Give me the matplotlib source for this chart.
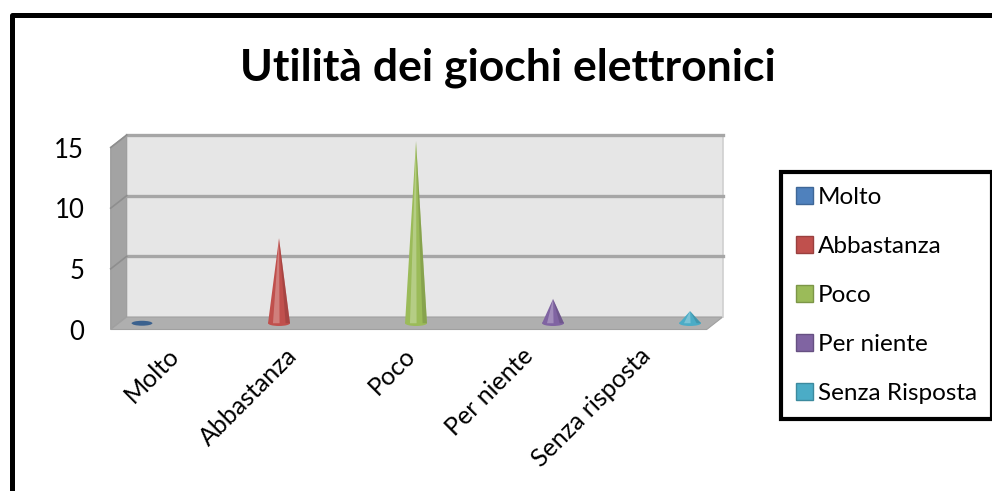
import numpy as np
import matplotlib
matplotlib.use("Agg")
import matplotlib.pyplot as plt
import matplotlib.transforms as mtransforms
from matplotlib.patches import Rectangle, Polygon, Ellipse, Patch

# data
categories = ["Molto", "Abbastanza", "Poco", "Per niente", "Senza risposta"]
legend_labels = ["Molto", "Abbastanza", "Poco", "Per niente", "Senza Risposta"]
values = [0, 7, 15, 2, 1]
colors = ["#4F81BD", "#C0504D", "#9BBB59", "#8064A2", "#4BACC6"]
yticks = [0, 5, 10, 15]

plt.rcParams['font.family'] = ['Lato', 'DejaVu Sans']

W, H = 992, 491
fig = plt.figure(figsize=(W / 100, H / 100), dpi=100)

# front plane of the fake 3D box (pixels)
x0, x1 = 110.7, 706.7
ybot, ytop = 329.5, 147.5
ax = fig.add_axes([x0 / W, 1 - ybot / H, (x1 - x0) / W, (ybot - ytop) / H])
ax.set_xlim(-0.17, 4.18)
ax.set_ylim(0, 15)
for s in ax.spines.values():
    s.set_visible(False)
ax.set_xticks([])
ax.set_yticks(yticks)
ax.tick_params(axis='y', length=0, pad=19, labelsize=18.5)
ax.patch.set_visible(False)


def shift(dx, dy):
    # offset in pixels (right / up)
    return mtransforms.ScaledTranslation(dx / 100, dy / 100, fig.dpi_scale_trans)


depth_x, depth_y = 16, 12.5
dxa = depth_x / (x1 - x0)
dya = depth_y / (ybot - ytop)

# back wall, side wall, floor
ax.add_patch(Rectangle((dxa, dya), 1, 1, transform=ax.transAxes, facecolor="#E6E6E6",
                       edgecolor="none", clip_on=False, zorder=0))
ax.add_patch(Polygon([(0, 0), (0, 1), (dxa, 1 + dya), (dxa, dya)], closed=True,
                     transform=ax.transAxes, facecolor="#A3A3A3", edgecolor="#9A9A9A",
                     lw=0.8, clip_on=False, zorder=1))
ax.add_patch(Polygon([(0, 0), (1, 0), (1 + dxa, dya), (dxa, dya)], closed=True,
                     transform=ax.transAxes, facecolor="#AFAFAF", edgecolor="#A0A0A0",
                     lw=0.8, clip_on=False, zorder=1))
ax.plot([1 + dxa, 1 + dxa], [dya, 1 + dya], transform=ax.transAxes, color="#D0D0D0",
        lw=1.2, clip_on=False, zorder=1)

back = ax.transData + shift(depth_x, depth_y)
xl = ax.get_xlim()
for v in yticks[1:]:
    ax.plot(xl, [v, v], transform=back, color="#A6A6A6", lw=2.4, clip_on=False, zorder=2)
    # the same gridline on the side wall
    ax.plot([0, dxa], [v / 15, v / 15 + dya], transform=ax.transAxes, color="#8E8E8E",
            lw=1.2, clip_on=False, zorder=2)

# cones, standing in the middle of the floor depth
mid = ax.transData + shift(depth_x / 2, depth_y / 2)
hw = 0.08
eh = 0.45
for i, (v, c) in enumerate(zip(values, colors)):
    rgb = np.array(matplotlib.colors.to_rgb(c))
    light = 1 - (1 - rgb) * 0.55
    dark = rgb * 0.75
    if v > 0:
        ax.fill([i - hw, i, i + hw], [0, v, 0], color=c, transform=mid, zorder=3,
                clip_on=False, lw=0)
        ax.fill([i - hw * 0.55, i, i + hw * 0.05], [0, v, 0], color=light, alpha=0.6,
                transform=mid, zorder=4, clip_on=False, lw=0)
        ax.fill([i + hw * 0.6, i, i + hw], [0, v, 0], color=dark, alpha=0.5,
                transform=mid, zorder=4, clip_on=False, lw=0)
        ax.add_patch(Ellipse((i, 0), 2 * hw, eh, transform=mid, facecolor=c,
                             edgecolor="none", zorder=3, clip_on=False))
    else:
        ax.add_patch(Ellipse((i, 0), 2 * hw * 0.95, eh * 0.9, transform=mid,
                             facecolor=dark, edgecolor="none", zorder=3, clip_on=False))

# category labels (perspective pulls them closer together)
xlab = ax.get_xaxis_transform()
for i, lab in enumerate(categories):
    ax.text(i, 0, lab, rotation=45, rotation_mode='anchor', ha='right', va='center',
            fontsize=18, transform=xlab + shift(41 - 19 * i, -22))

fig.text(508 / W, 1 - 68 / H, "Utilità dei giochi elettronici", ha='center', va='center',
         fontsize=32, fontweight='bold')

handles = [Patch(facecolor=c, edgecolor=matplotlib.colors.to_hex(
    np.array(matplotlib.colors.to_rgb(c)) * 0.8)) for c in colors]
leg = fig.legend(handles, legend_labels, loc='upper left',
                 bbox_to_anchor=(781 / W, 1 - 172 / H), bbox_transform=fig.transFigure,
                 borderaxespad=0, fontsize=17.5, labelspacing=1.15, handlelength=0.7,
                 handleheight=0.7, handletextpad=0.2, borderpad=0.62,
                 fancybox=False, frameon=True, framealpha=1)
leg.get_frame().set_edgecolor("black")
leg.get_frame().set_linewidth(3)

# outer chart frame (runs off the right and bottom of the picture)
fig.patches.append(Rectangle((12 / W, -0.2), 1.2, 1.2 - 15 / H, transform=fig.transFigure,
                             facecolor="none", edgecolor="black", lw=3.6, joinstyle='round'))

fig.savefig("out.png", dpi=100)
